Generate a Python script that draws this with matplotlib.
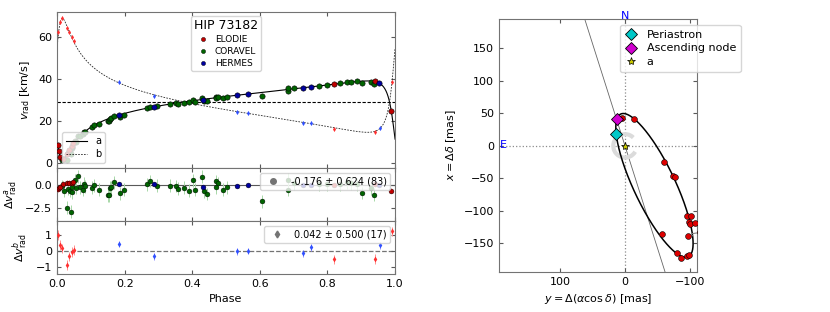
import numpy as np
import matplotlib
matplotlib.use('Agg')
import matplotlib.pyplot as plt
from matplotlib.lines import Line2D
from matplotlib.patches import Arc

# orbital solution
ecc = 0.77
omega_a = 127.3          # deg, component a
t_peri = 0.002           # phase of periastron
k_a, k_b, v0 = 18.75, 27.15, 29.0
# Thiele-Innes constants [mas]
ti_A, ti_B, ti_F, ti_G = 78.9, 58.8, 121.3, 13.5

# O-C of component a, per instrument
elodie_a_phase = [0.002, 0.005, 0.009, 0.018, 0.029, 0.036, 0.043, 0.048, 0.820, 0.941, 0.988]
elodie_a_oc = [-0.45, -0.37, -0.22, 0.15, 0.26, 0.26, 0.26, 0.34, 0.02, 0.08, -0.60]
coravel_a_phase = [0.014, 0.022, 0.029, 0.033, 0.038, 0.040, 0.043, 0.043, 0.053, 0.055,
                   0.063, 0.068, 0.078, 0.081, 0.083, 0.103, 0.110, 0.125, 0.150, 0.153,
                   0.157, 0.160, 0.170, 0.186, 0.199, 0.265, 0.275, 0.295, 0.334, 0.352,
                   0.359, 0.376, 0.391, 0.401, 0.408, 0.428, 0.435, 0.445, 0.469, 0.470,
                   0.477, 0.492, 0.504, 0.606, 0.682, 0.684, 0.700, 0.776, 0.800, 0.837,
                   0.857, 0.870, 0.887, 0.903, 0.929, 0.939]
coravel_a_oc = [-0.10, -0.60, -2.46, -0.41, -0.60, -2.91, -0.78, -0.22, 0.52, -0.30,
                0.97, -0.22, -0.52, 0.15, -0.15, -0.30, -0.04, -0.52, -1.12, -1.12,
                -0.30, -0.22, 0.30, -0.90, -0.49, 0.07, 0.45, -0.07, -0.07, -0.10,
                -0.41, -0.30, -0.60, 0.52, -0.52, 0.90, -0.67, -0.97, 0.41, -0.22,
                0.22, -0.52, -0.22, -1.79, -0.49, 0.60, 0.20, 0.10, 0.10, 0.10,
                0.30, 0.20, 0.10, -0.86, -0.34, -1.04]
hermes_a_phase = [0.183, 0.286, 0.433, 0.532, 0.566, 0.727, 0.750, 0.953]
hermes_a_oc = [0.15, 0.15, -0.22, -0.07, 0.04, 0.0, 0.0, 0.0]

# O-C of component b
elodie_b_phase = [0.004, 0.009, 0.014, 0.029, 0.036, 0.043, 0.049, 0.820, 0.941, 0.990]
elodie_b_oc = [0.99, 0.36, 0.15, -0.89, -0.36, -0.08, 0.06, -0.55, -0.51, 1.22]
hermes_b_phase = [0.184, 0.287, 0.532, 0.566, 0.729, 0.750, 0.954]
hermes_b_oc = [0.44, -0.36, -0.04, 0.0, -0.17, 0.21, 0.34]

err_a = {'ELODIE': 0.25, 'CORAVEL': 0.7, 'HERMES': 0.2}
err_b = {'ELODIE': 0.3, 'HERMES': 0.2}

# relative astrometry [mas]
astro_y = [5.1, -13.5, -59.4, -73.9, -77.0, -94.6, -100.8, -98.0, -99.7, -108.0,
           -96.6, -116.0, -57.4, -79.5, -86.8, -94.6, -98.7]
astro_x = [43.0, 40.6, -24.6, -46.0, -48.6, -107.7, -107.7, -117.0, -120.5, -118.0,
           -139.0, -133.0, -134.8, -164.0, -173.0, -169.7, -168.0]
node_y, node_x = 12.9, 40.6

inst_col = {'ELODIE': '#c00000', 'CORAVEL': '#006400', 'HERMES': '#0000a0'}
inst_col_b = {'ELODIE': '#ff3030', 'HERMES': '#3050ff'}
inst_err_col = {'ELODIE': '#ff9090', 'CORAVEL': '#a8d8a8', 'HERMES': '#9090ff'}


def true_anomaly(phase):
    M = 2 * np.pi * (np.asarray(phase, float) - t_peri)
    M = np.mod(M + np.pi, 2 * np.pi) - np.pi
    E = M + 0.85 * ecc * np.sign(np.sin(M))
    for _ in range(60):
        E = E - (E - ecc * np.sin(E) - M) / (1 - ecc * np.cos(E))
    return 2 * np.arctan2(np.sqrt(1 + ecc) * np.sin(E / 2), np.sqrt(1 - ecc) * np.cos(E / 2))


def rv_model(phase, k, w):
    nu = true_anomaly(phase)
    w = np.radians(w)
    return v0 + k * (np.cos(nu + w) + ecc * np.cos(w))


plt.rcParams['font.size'] = 8
plt.rcParams['axes.edgecolor'] = '0.45'
plt.rcParams['xtick.color'] = '0.35'
plt.rcParams['ytick.color'] = '0.35'
plt.rcParams['xtick.labelcolor'] = 'k'
plt.rcParams['ytick.labelcolor'] = 'k'

fig = plt.figure(figsize=(8.3, 3.12), dpi=100)
ax1 = fig.add_axes([0.0687, 0.4615, 0.4073, 0.501])
ax2 = fig.add_axes([0.0687, 0.2917, 0.4073, 0.1699], sharex=ax1)
ax3 = fig.add_axes([0.0687, 0.1218, 0.4073, 0.1699], sharex=ax1)
ax4 = fig.add_axes([0.601, 0.128, 0.239, 0.811])

for ax in (ax1, ax2, ax3, ax4):
    ax.tick_params(direction='in', top=True, right=True, labelsize=8, length=3)

ph = np.linspace(0, 1, 3000)
ax1.plot(ph, rv_model(ph, k_a, omega_a), color='k', lw=0.8, label='a')
ax1.plot(ph, rv_model(ph, k_b, omega_a + 180), color='0.15', lw=0.6, ls=(0, (2, 1.5)), label='b')
ax1.axhline(v0, color='k', lw=0.8, ls=(0, (3, 1.5)))

# component b
for name, p, oc in (('ELODIE', elodie_b_phase, elodie_b_oc), ('HERMES', hermes_b_phase, hermes_b_oc)):
    p = np.array(p)
    vb = rv_model(p, k_b, omega_a + 180) + np.array(oc)
    ax1.errorbar(p, vb, yerr=err_b[name], fmt='d', ms=2.6, color=inst_col_b[name],
                 ecolor=inst_err_col[name], elinewidth=0.6, mew=0, zorder=3)
    ax3.errorbar(p, oc, yerr=err_b[name], fmt='d', ms=3, color=inst_col_b[name],
                 ecolor=inst_err_col[name], elinewidth=0.7, mew=0, zorder=3)

# component a
for name, p, oc in (('CORAVEL', coravel_a_phase, coravel_a_oc), ('ELODIE', elodie_a_phase, elodie_a_oc),
                    ('HERMES', hermes_a_phase, hermes_a_oc)):
    p = np.array(p)
    va = rv_model(p, k_a, omega_a) + np.array(oc)
    ax1.plot(p, va, 'o', ms=3.8, mfc=inst_col[name], mec='k', mew=0.4, zorder=4)
    ax2.errorbar(p, oc, yerr=err_a[name], fmt='o', ms=3.5, mfc=inst_col[name], mec='k', mew=0.3,
                 ecolor=inst_err_col[name], elinewidth=0.7, zorder=3)

ax1.set_xlim(0, 1)
ax1.set_ylim(-2.5, 72)
ax1.set_yticks([0, 20, 40, 60])
ax1.set_ylabel(r'$v_\mathrm{rad}$ [km/s]')
plt.setp(ax1.get_xticklabels(), visible=False)
plt.setp(ax2.get_xticklabels(), visible=False)

leg_ab = ax1.legend(loc='lower left', fontsize=7, handlelength=2.2, borderpad=0.4, labelspacing=0.3)
ax1.add_artist(leg_ab)
inst_handles = [Line2D([], [], ls='none', marker='o', ms=3, mfc=inst_col[n], mec='k', mew=0.3, label=n)
                for n in ('ELODIE', 'CORAVEL', 'HERMES')]
ax1.legend(handles=inst_handles, loc='upper center', title='HIP 73182', title_fontsize=9,
           fontsize=6.5, labelspacing=0.35, borderpad=0.3, handletextpad=0.6, handlelength=1.5)

ax2.axhline(0, color='0.35', lw=0.8, zorder=1)
ax2.set_ylim(-3.92, 1.87)
ax2.set_yticks([-2.5, 0.0])
ax2.set_ylabel(r'$\Delta v^{a}_\mathrm{rad}$')
ax2.legend(handles=[Line2D([], [], ls='none', marker='o', ms=4, color='0.45', label='-0.176 ± 0.624 (83)')],
           loc='upper right', fontsize=7, borderpad=0.35, handletextpad=0.8)

ax3.axhline(0, color='0.45', lw=0.9, ls='--', zorder=1)
ax3.set_ylim(-1.47, 1.88)
ax3.set_yticks([-1, 0, 1])
ax3.set_xticks(np.arange(0, 1.01, 0.2))
ax3.set_ylabel(r'$\Delta v^{b}_\mathrm{rad}$')
ax3.set_xlabel('Phase', fontsize=8)
ax3.legend(handles=[Line2D([], [], ls='none', marker='d', ms=3.5, color='0.45', label='0.042 ± 0.500 (17)')],
           loc='upper right', fontsize=7, borderpad=0.35, handletextpad=0.8)
fig.align_ylabels([ax1, ax2, ax3])

# astrometric orbit
E = np.linspace(0, 2 * np.pi, 800)
X = np.cos(E) - ecc
Y = np.sqrt(1 - ecc ** 2) * np.sin(E)
orb_x = ti_A * X + ti_F * Y
orb_y = ti_B * X + ti_G * Y

ax4.axvline(0, color='0.55', ls=':', lw=0.9, zorder=1)
ax4.axhline(0, color='0.55', ls=':', lw=0.9, zorder=1)
ax4.axline((0, 0), (node_y, node_x), color='0.4', lw=0.6, zorder=1)
ax4.add_patch(Arc((0, 0), 36, 36, theta1=-150, theta2=135, color='0.86', lw=3, zorder=1))
ax4.plot(orb_y, orb_x, color='k', lw=1.1, zorder=2)
for yy, xx in zip(astro_y, astro_x):
    i = np.argmin((orb_y - yy) ** 2 + (orb_x - xx) ** 2)
    ax4.plot([yy, orb_y[i]], [xx, orb_x[i]], color='0.5', lw=0.8, zorder=2)
ax4.plot(astro_y, astro_x, 'o', ms=4.2, mfc='#dd0000', mec='k', mew=0.4, zorder=3)
ax4.plot(ti_B * (1 - ecc), ti_A * (1 - ecc), 'D', ms=6, mfc='#00c8c8', mec='k', mew=0.6, zorder=4,
         label='Periastron')
ax4.plot(node_y, node_x, 'D', ms=6, mfc='#d000d0', mec='k', mew=0.6, zorder=4, label='Ascending node')
ax4.plot(0, 0, '*', ms=6, mfc='#c8c800', mec='k', mew=0.5, zorder=4, label='a')

ax4.set_xlim(194, -111)
ax4.set_ylim(-194, 195)
ax4.set_xticks([100, 0, -100])
ax4.set_yticks([-150, -100, -50, 0, 50, 100, 150])
ax4.set_xlabel(r'$y = \Delta(\alpha \cos\delta)$ [mas]')
ax4.set_ylabel(r'$x = \Delta\delta$ [mas]')
ax4.text(0, 192, 'N', color='#0000ff', ha='center', va='bottom', fontsize=8)
ax4.text(193, 1, 'E', color='#0000ff', ha='left', va='center', fontsize=8)
ax4.legend(loc='upper left', bbox_to_anchor=(0.611, 0.976), borderaxespad=0, fontsize=8,
           borderpad=0.4, handletextpad=0.8, handlelength=1.2, labelspacing=0.35)

fig.savefig('out.png', dpi=100)
plt.close(fig)
